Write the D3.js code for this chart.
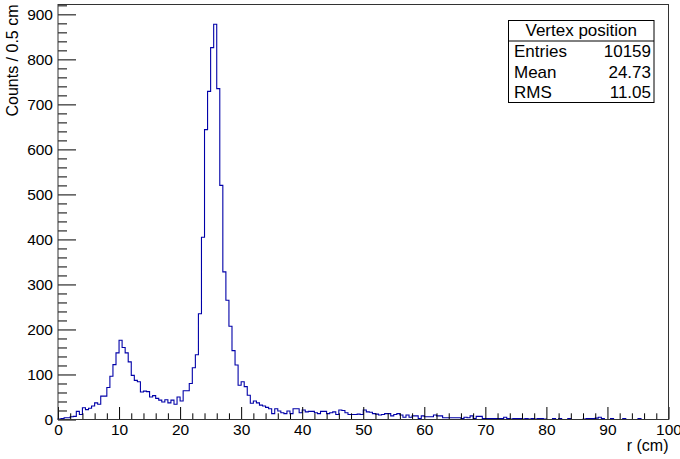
<!DOCTYPE html>
<html>
<head>
<meta charset="utf-8">
<script src="https://cdn.jsdelivr.net/npm/d3@7"></script>
<style>
  body { margin: 0; background: #fff; }
  svg { font-family: "Liberation Sans", Arial, Helvetica, sans-serif; }
</style>
</head>
<body>
<div id="chart"></div>
<script>
// Data: counts per 0.5 cm bin, r from 0 to 100 cm
const binWidth = 0.5;
const binCounts = [
  // 0 - 10
  1, 2, 4, 4, 6, 7, 18, 11, 26, 22, 25, 30, 37, 34, 52, 52, 71, 96, 122, 148,
  // 10 - 20
  176, 160, 148, 128, 98, 87, 84, 61, 63, 62, 50, 53, 47, 43, 39, 44, 37, 43, 34, 50,
  // 20 - 30
  41, 64, 64, 80, 115, 144, 235, 405, 644, 729, 826, 878, 735, 520, 328, 265, 207, 153, 121, 76,
  // 30 - 40
  84, 73, 54, 36, 41, 37, 32, 30, 27, 24, 13, 24, 19, 15, 13, 19, 13, 24, 24, 15,
  // 40 - 50
  21, 17, 18, 18, 15, 13, 18, 18, 13, 15, 17, 11, 21, 20, 15, 11, 11, 11, 12, 11,
  // 50 - 60
  21, 17, 16, 13, 12, 10, 11, 13, 13, 8, 11, 13, 10, 5, 10, 5, 8, 8, 2, 8,
  // 60 - 70
  6, 6, 6, 10, 8, 8, 4, 4, 4, 4, 4, 4, 2, 5, 4, 8, 2, 7, 7, 2,
  // 70 - 80
  2, 2, 2, 2, 2, 2, 5, 2, 1, 2, 2, 2, 1, 2, 1, 2, 1, 2, 2, 1,
  // 80 - 90
  0, 0, 2, 0, 2, 0, 0, 2, 0, 0, 0, 0, 1, 2, 2, 2, 3, 5, 2, 0,
  // 90 - 100
  0, 2, 0, 0, 0, 2, 0, 0, 0, 0, 2, 0, 0, 0, 0, 0, 0, 0, 0, 0
];

const xMajorTicks = [0, 10, 20, 30, 40, 50, 60, 70, 80, 90, 100];
const yMajorTicks = [0, 100, 200, 300, 400, 500, 600, 700, 800, 900];

const statTitle = 'Vertex position';
const statLabels = ['Entries', 'Mean', 'RMS'];
const statValues = ['10159', '24.73', '11.05'];

const xTitle = 'r (cm)';
const yTitle = 'Counts / 0.5 cm';

function draw() {
    // Dimensions
    let dimensions = {
        width: 680,
        height: 459,
        margin: {
            top: 4.5,
            bottom: 39.5,
            left: 58,
            right: 11.5
        }
    };

    dimensions.ctrWidth = dimensions.width - dimensions.margin.left - dimensions.margin.right;
    dimensions.ctrHeight = dimensions.height - dimensions.margin.top - dimensions.margin.bottom;

    const bins = binCounts.map((c, i) => ({ x0: i * binWidth, count: c }));
    const xMax = binCounts.length * binWidth;
    const yMax = d3.max(binCounts) * 1.05;

    // Scales
    const xScale = d3.scaleLinear()
        .domain([0, xMax])
        .range([0, dimensions.ctrWidth]);

    const yScale = d3.scaleLinear()
        .domain([0, yMax])
        .range([dimensions.ctrHeight, 0]);

    const svg = d3.select('#chart')
        .append('svg')
        .attr('width', dimensions.width)
        .attr('height', dimensions.height);

    const ctr = svg.append('g')
        .attr('transform', `translate(${dimensions.margin.left},${dimensions.margin.top})`);

    // Histogram outline
    const points = [{ x0: 0, count: 0 }, ...bins, { x0: xMax, count: binCounts[binCounts.length - 1] }, { x0: xMax, count: 0 }];
    const stepLine = d3.line()
        .x(d => xScale(d.x0))
        .y(d => yScale(d.count))
        .curve(d3.curveStepAfter);

    ctr.append('path')
        .datum(points)
        .attr('d', stepLine)
        .attr('fill', 'none')
        .attr('stroke', '#0000a8')
        .attr('stroke-width', 1.1);

    // Axes (ROOT style: ticks pointing inward)
    const xMinor = d3.range(0, xMax + 0.01, 2).filter(v => v % 10 !== 0);
    const yMinor = d3.range(0, yMax, 20).filter(v => v % 100 !== 0);

    const xAxis = d3.axisBottom(xScale)
        .tickValues(xMajorTicks)
        .tickSizeInner(-12.5)
        .tickSizeOuter(0)
        .tickPadding(4)
        .tickFormat(d3.format('d'));

    const xAxisGroup = ctr.append('g')
        .attr('transform', `translate(0,${dimensions.ctrHeight})`)
        .call(xAxis)
        .classed('axis', true);

    ctr.append('g')
        .attr('transform', `translate(0,${dimensions.ctrHeight})`)
        .call(d3.axisBottom(xScale).tickValues(xMinor).tickSizeInner(-6.2).tickSizeOuter(0).tickFormat(''))
        .classed('axis', true);

    const yAxis = d3.axisLeft(yScale)
        .tickValues(yMajorTicks)
        .tickSizeInner(-18)
        .tickSizeOuter(0)
        .tickPadding(5)
        .tickFormat(d3.format('d'));

    const yAxisGroup = ctr.append('g')
        .call(yAxis)
        .classed('axis', true);

    ctr.append('g')
        .call(d3.axisLeft(yScale).tickValues(yMinor).tickSizeInner(-9).tickSizeOuter(0).tickFormat(''))
        .classed('axis', true);

    svg.selectAll('.axis .domain').remove();
    svg.selectAll('.axis line').attr('stroke', '#000').attr('stroke-width', 1);
    svg.selectAll('.axis text')
        .attr('fill', '#000')
        .style('font-size', '15.5px')
        .style('font-family', '"Liberation Sans", Arial, Helvetica, sans-serif');

    // Frame
    ctr.append('rect')
        .attr('x', 0)
        .attr('y', 0)
        .attr('width', dimensions.ctrWidth)
        .attr('height', dimensions.ctrHeight)
        .attr('fill', 'none')
        .attr('stroke', '#333')
        .attr('stroke-width', 1);

    // Axis titles
    xAxisGroup.append('text')
        .attr('x', dimensions.ctrWidth)
        .attr('y', 31)
        .attr('fill', '#000')
        .style('font-size', '16px')
        .style('text-anchor', 'end')
        .text(xTitle);

    yAxisGroup.append('text')
        .attr('transform', `translate(${-dimensions.margin.left + 18},0) rotate(-90)`)
        .attr('fill', '#000')
        .style('font-size', '16px')
        .style('text-anchor', 'end')
        .text(yTitle);

    // Stats box
    const box = { x: 508.5, y: 20.5, w: 145.5, h: 82, titleH: 20.5 };
    const stats = svg.append('g');

    stats.append('rect')
        .attr('x', box.x)
        .attr('y', box.y)
        .attr('width', box.w)
        .attr('height', box.h)
        .attr('fill', '#fff')
        .attr('stroke', '#000')
        .attr('stroke-width', 1);

    stats.append('line')
        .attr('x1', box.x)
        .attr('x2', box.x + box.w)
        .attr('y1', box.y + box.titleH)
        .attr('y2', box.y + box.titleH)
        .attr('stroke', '#000');

    stats.append('text')
        .attr('x', box.x + box.w / 2)
        .attr('y', box.y + 15.5)
        .attr('text-anchor', 'middle')
        .style('font-size', '17px')
        .text(statTitle);

    const rowY = d3.scaleBand()
        .domain(statLabels)
        .range([box.y + box.titleH, box.y + box.h]);

    stats.selectAll('text.label')
        .data(statLabels)
        .join('text')
        .classed('label', true)
        .attr('x', box.x + 5.5)
        .attr('y', d => rowY(d) + rowY.bandwidth() / 2 + 6)
        .style('font-size', '17px')
        .text(d => d);

    stats.selectAll('text.value')
        .data(statValues)
        .join('text')
        .classed('value', true)
        .attr('x', box.x + box.w - 3)
        .attr('y', (d, i) => rowY(statLabels[i]) + rowY.bandwidth() / 2 + 6)
        .attr('text-anchor', 'end')
        .style('font-size', '17px')
        .text(d => d);
}

draw();
</script>
</body>
</html>
